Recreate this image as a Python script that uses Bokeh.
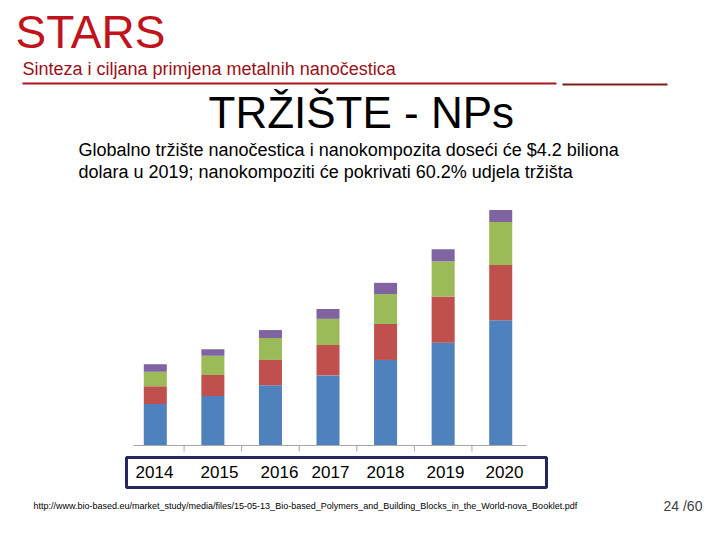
from bokeh.plotting import figure
from bokeh.models import Range1d, Label, BoxAnnotation
from bokeh.embed import file_html
from bokeh.resources import INLINE

# ---- data (USD billions) ----
years = ["2014", "2015", "2016", "2017", "2018", "2019", "2020"]
seg_blue = [0.89, 1.06, 1.29, 1.50, 1.83, 2.20, 2.68]
seg_red = [0.38, 0.45, 0.54, 0.65, 0.77, 0.99, 1.18]
seg_green = [0.31, 0.41, 0.47, 0.56, 0.64, 0.75, 0.92]
seg_purple = [0.16, 0.14, 0.17, 0.21, 0.24, 0.26, 0.26]
seg_colors = ["#4f81bd", "#c0504d", "#9bbb59", "#8064a2"]

FONT = "Liberation Sans"
W, H = 704, 524

# layout of the chart area in page pixels
SLOT = 57.57          # px per category
X0 = 154.8            # px of first bar centre
BASE = 445            # px of the baseline
PPU = 46.74           # px per billion

xr = Range1d(0.5 - X0 / SLOT, 0.5 + (W - X0) / SLOT)
yr = Range1d(-(H - BASE) / PPU, BASE / PPU)

p = figure(width=W, height=H, output_backend="svg", toolbar_location=None,
           x_range=xr, y_range=yr, x_axis_location=None, y_axis_location=None,
           min_border=0)
p.outline_line_color = None
p.xgrid.visible = False
p.ygrid.visible = False
p.background_fill_color = "white"
p.border_fill_color = "white"

n = len(years)
xs = [i + 0.5 for i in range(n)]
bottom = [0.0] * n
for seg, col in zip([seg_blue, seg_red, seg_green, seg_purple], seg_colors):
    top = [b + s for b, s in zip(bottom, seg)]
    p.vbar(x=xs, bottom=bottom, top=top, width=0.40, fill_color=col, line_color=None)
    bottom = top

# category axis: baseline and boundary ticks (Excel style)
axis_start, axis_end = 0.12, n - 0.05
p.segment(x0=[axis_start], y0=[0], x1=[axis_end], y1=[0], line_color="#a6a6a6", line_width=1)
tick_len = 6 / PPU
bounds = list(range(1, n))
p.segment(x0=bounds, y0=[0] * len(bounds), x1=bounds, y1=[-tick_len] * len(bounds),
          line_color="#a6a6a6", line_width=1)


def put(text, px, py, size, color="black", align="left", font=FONT):
    # py is the wanted baseline; the renderer sits text ~0.4em lower
    y = H - (py - 0.4 * size)
    p.add_layout(Label(x=px, y=y, x_units="screen", y_units="screen",
                       text=text, text_font=font, text_font_size=f"{size}px",
                       text_color=color, text_align=align,
                       text_baseline="alphabetic"))


def rect(l, r, t, b, fill=None, line=None, lw=1):
    p.add_layout(BoxAnnotation(left=l, right=r, top=H - t, bottom=H - b,
                               left_units="screen", right_units="screen",
                               top_units="screen", bottom_units="screen",
                               fill_color=fill, fill_alpha=1.0 if fill else 0,
                               line_color=line, line_width=lw,
                               line_alpha=1.0 if line else 0))


# header
put("STARS", 15, 50, 46, "#c0131b")
put("Sinteza i ciljana primjena metalnih nanočestica", 22, 76, 18, "#9b1118")
rect(22, 556, 82, 84, fill="#a8151c")
rect(562, 667, 83, 85, fill="#7b1c1c")
put("TRŽIŠTE - NPs", 208, 130, 44)
put("Globalno tržište nanočestica i nanokompozita doseći će $4.2 biliona", 78, 157, 18)
put("dolara u 2019; nanokompoziti će pokrivati 60.2% udjela tržišta", 78, 179, 18)

# year box
rect(126, 546, 457, 487, fill=None, line="#252560", lw=3)
label_cx = [154, 219, 279, 330, 385, 445, 504]
for yr_txt, cx in zip(years, label_cx):
    put(yr_txt, cx, 478, 17, align="center")

# footer
put("http://www.bio-based.eu/market_study/media/files/15-05-13_Bio-based_Polymers_and_Building_Blocks_in_the_World-nova_Booklet.pdf",
    33, 509, 9)
put("24 /60", 663, 511, 14, "#404040")

open("out.html", "w").write(file_html(p, INLINE))
